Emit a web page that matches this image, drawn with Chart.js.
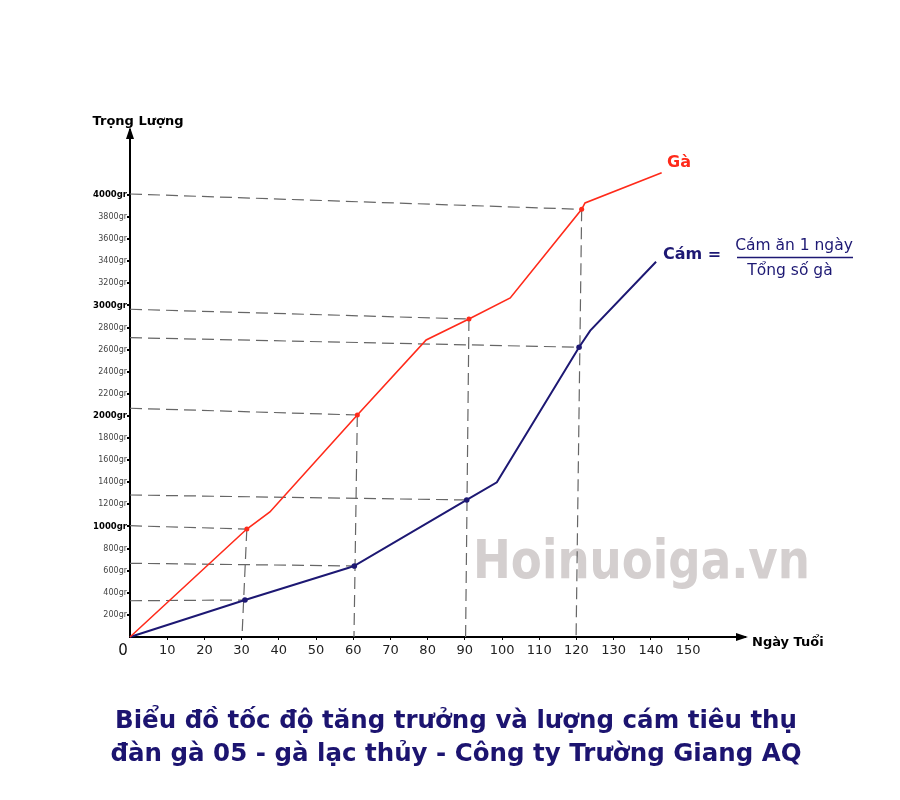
<!DOCTYPE html>
<html><head><meta charset="utf-8">
<script src="https://cdn.jsdelivr.net/npm/chart.js@4"></script>
<style>html,body{margin:0;padding:0;background:#fff}</style>
</head><body>
<canvas id="c" width="900" height="800"></canvas>
<script>
// ---- data ----
const gaDays     = [0, 31.4, 37.6, 61.1, 79.6, 91.1, 102.2, 121.4, 122.3, 142.9];
const gaWeights  = [0, 977, 1131, 2009, 2688, 2878, 3068, 3870, 3928, 4202];
const gaMarked   = [1, 3, 5, 7];
const camDays    = [0, 30.9, 58.6, 60.3, 90.5, 98.6, 120.7, 123.7, 141.4];
const camWeights = [0, 335, 624, 643, 1240, 1400, 2622, 2772, 3396];
const camMarked  = [1, 3, 4, 6];
const hGuideStartWeights = [4009, 2966, 2709, 2070, 1285, 1007, 667, 328];
const hGuideTargets = [['ga',7],['ga',5],['cam',6],['ga',3],['cam',4],['ga',1],['cam',3],['cam',1]];
const vGuideBaseDays = [30.1, 60.2, 90.2, 119.9];
const vGuideTargets = [['ga',1],['ga',3],['ga',5],['ga',7]];
const xTickValues = [10,20,30,40,50,60,70,80,90,100,110,120,130,140,150];
const yTickValues = [200,400,600,800,1000,1200,1400,1600,1800,2000,2200,2400,2600,2800,3000,3200,3400,3600,3800,4000];
const yMajorTicks = [1000,2000,3000,4000];
const titleLines = ['Biểu đồ tốc độ tăng trưởng và lượng cám tiêu thụ', 'đàn gà 05 - gà lạc thủy - Công ty Trường Giang AQ'];
const yAxisTitle = 'Trọng Lượng';
const xAxisTitle = 'Ngày Tuổi';
const gaLabel = 'Gà';
const camLabel = 'Cám =';
const camNumerator = 'Cám ăn 1 ngày';
const camDenominator = 'Tổng số gà';
const watermark = 'Hoinuoiga.vn';

// ---- build ----
const RED = '#ff2a1a', NAVY = '#1d1873', GUIDE = '#666666', TITLE = '#1c1470';
const series = {
  ga: gaDays.map((d,i)=>({x:d, y:gaWeights[i]})),
  cam: camDays.map((d,i)=>({x:d, y:camWeights[i]}))
};
const guideStyle = {borderColor: GUIDE, borderWidth: 1.2, borderDash: [12,6], pointRadius: 0, fill: false, tension: 0, clip: false};
const guides = [];
hGuideStartWeights.forEach((w,i)=>{
  const [s, idx] = hGuideTargets[i];
  guides.push(Object.assign({data: [{x:0, y:w}, series[s][idx]]}, guideStyle));
});
vGuideBaseDays.forEach((d,i)=>{
  const [s, idx] = vGuideTargets[i];
  guides.push(Object.assign({data: [series[s][idx], {x:d, y:0}]}, guideStyle));
});

const overlay = {
  id: 'overlay',
  beforeDatasetsDraw(chart) {
    const ctx = chart.ctx;
    ctx.save();
    ctx.font = 'bold 50px "DejaVu Sans"';
    const w = ctx.measureText(watermark).width;
    ctx.translate(473, 578);
    ctx.scale(337 / w, 1.05);
    ctx.fillStyle = '#d4cfcf';
    ctx.textBaseline = 'alphabetic';
    ctx.textAlign = 'left';
    ctx.fillText(watermark, 0, 0);
    ctx.restore();
  },
  afterDraw(chart) {
    const ctx = chart.ctx, a = chart.chartArea;
    const x0 = chart.scales.x.getPixelForValue(0);
    const y0 = chart.scales.y.getPixelForValue(0);
    ctx.save();
    // arrows
    ctx.fillStyle = '#000';
    ctx.beginPath();
    ctx.moveTo(x0 - 4, a.top + 9); ctx.lineTo(x0, a.top - 3); ctx.lineTo(x0 + 4, a.top + 9); ctx.closePath(); ctx.fill();
    ctx.beginPath();
    ctx.moveTo(a.right - 9, y0 - 4); ctx.lineTo(a.right + 3, y0); ctx.lineTo(a.right - 9, y0 + 4); ctx.closePath(); ctx.fill();
    // axis titles
    ctx.textAlign = 'center'; ctx.textBaseline = 'alphabetic';
    ctx.font = 'bold 13px "DejaVu Sans"';
    ctx.fillText(yAxisTitle, 138, 125);
    ctx.textAlign = 'left';
    ctx.fillText(xAxisTitle, 752, 646);
    // origin
    ctx.font = '15px "DejaVu Sans"';
    ctx.fillStyle = '#111';
    ctx.textAlign = 'center';
    ctx.fillText('0', x0 - 7, 655);
    // series labels
    ctx.textAlign = 'left'; ctx.textBaseline = 'middle';
    ctx.font = 'bold 16px "DejaVu Sans"';
    ctx.fillStyle = RED;
    ctx.fillText(gaLabel, 667, 163);
    ctx.fillStyle = NAVY;
    ctx.fillText(camLabel, 663, 255);
    ctx.font = '15.5px "DejaVu Sans"';
    ctx.textAlign = 'center';
    ctx.fillText(camNumerator, 794, 246);
    ctx.fillText(camDenominator, 790, 271);
    ctx.strokeStyle = NAVY; ctx.lineWidth = 1.5;
    ctx.beginPath(); ctx.moveTo(737, 257.5); ctx.lineTo(853, 257.5); ctx.stroke();
    // title
    ctx.fillStyle = TITLE;
    ctx.font = 'bold 24.5px "DejaVu Sans"';
    ctx.textAlign = 'center'; ctx.textBaseline = 'middle';
    ctx.fillText(titleLines[0], 456, 722);
    ctx.fillText(titleLines[1], 456, 755);
    ctx.restore();
  }
};

new Chart(document.getElementById('c'), {
  type: 'line',
  data: {
    datasets: [
      {data: series.ga, borderColor: RED, backgroundColor: RED, borderWidth: 1.6, tension: 0, fill: false, clip: false,
       pointRadius: c => gaMarked.includes(c.dataIndex) ? 2.5 : 0, pointBorderWidth: 0},
      {data: series.cam, borderColor: NAVY, backgroundColor: NAVY, borderWidth: 2, tension: 0, fill: false, clip: false,
       pointRadius: c => camMarked.includes(c.dataIndex) ? 2.8 : 0, pointBorderWidth: 0},
      ...guides
    ]
  },
  options: {
    responsive: false,
    animation: false,
    layout: {padding: {left: 80, top: 130, right: 155, bottom: 123}},
    plugins: {legend: {display: false}, tooltip: {enabled: false}, title: {display: false}},
    scales: {
      x: {
        type: 'linear', min: 0, max: 165.3,
        afterFit: s => { s.height = 40; },
        afterBuildTicks: s => { s.ticks = xTickValues.map(v => ({value: v})); },
        grid: {display: true, drawOnChartArea: false, drawTicks: true, tickLength: 3, color: '#000', lineWidth: 1},
        border: {display: true, color: '#000', width: 2},
        ticks: {padding: 3, color: '#222', font: {family: 'DejaVu Sans', size: 13}, maxRotation: 0, autoSkip: false}
      },
      y: {
        type: 'linear', min: 0, max: 4588,
        afterFit: s => { s.width = 50; },
        afterBuildTicks: s => { s.ticks = yTickValues.map(v => ({value: v})); },
        grid: {display: true, drawOnChartArea: false, drawTicks: true, tickLength: 3, color: '#000', lineWidth: 2},
        border: {display: true, color: '#000', width: 2},
        ticks: {
          padding: 0, autoSkip: false,
          callback: v => v + 'gr',
          color: c => yMajorTicks.includes(c.tick.value) ? '#000' : '#444',
          font: c => yMajorTicks.includes(c.tick && c.tick.value) ? {family: 'DejaVu Sans', size: 8.5, weight: 'bold'} : {family: 'DejaVu Sans', size: 8}
        }
      }
    }
  },
  plugins: [overlay]
});
</script>
</body></html>
